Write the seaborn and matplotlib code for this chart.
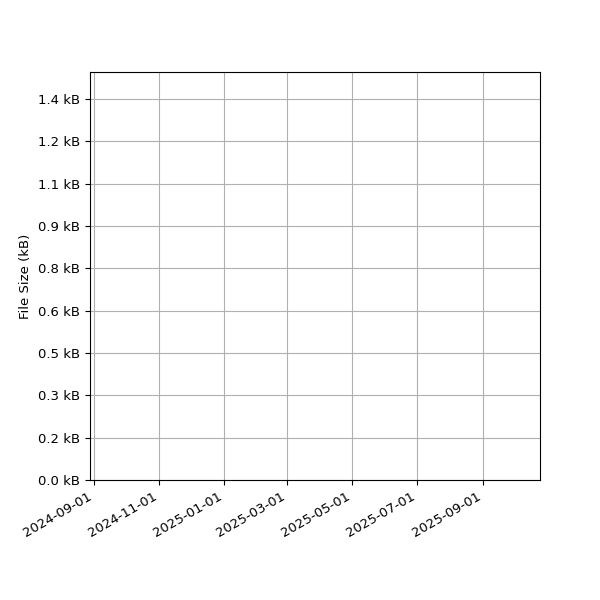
import matplotlib
matplotlib.use("Agg")
import matplotlib.pyplot as plt
import matplotlib.dates as mdates
import seaborn as sns
import pandas as pd
import numpy as np

# The reference chart has no visible data: only axes, ticks and grid
dates = []
sizes_bytes = []

# Axis extents
x_start = "2024-08-28 06:00"
x_end = "2025-10-24 12:00"
y_max_bytes = 1542
y_tick_bytes = [0, 160, 320, 480, 640, 800, 960, 1120, 1280, 1440]
x_tick_dates = ["2024-09-01", "2024-11-01", "2025-01-01", "2025-03-01",
                "2025-05-01", "2025-07-01", "2025-09-01"]

plt.rcParams["font.size"] = 9.5

data = pd.DataFrame({
    "Date": pd.to_datetime(pd.Series(dates, dtype="object")),
    "Size": pd.Series(sizes_bytes, dtype="float64"),
})

fig, ax = plt.subplots(figsize=(6, 6), dpi=100)
if len(data):
    sns.lineplot(data=data, x="Date", y="Size", ax=ax)

ax.set_xlim(pd.Timestamp(x_start), pd.Timestamp(x_end))
ax.set_ylim(0, y_max_bytes)
ax.set_xticks([pd.Timestamp(d) for d in x_tick_dates])
ax.xaxis.set_major_formatter(mdates.DateFormatter("%Y-%m-%d"))
ax.set_yticks(y_tick_bytes)
ax.yaxis.set_major_formatter(plt.FuncFormatter(lambda v, _: f"{v / 1024:.1f} kB"))

ax.grid(True)
ax.set_ylabel("File Size (kB)")
ax.set_xlabel("")

fig.autofmt_xdate()
fig.subplots_adjust(left=0.15, right=0.9, top=0.88, bottom=0.2)
fig.savefig("out.png", dpi=100)
